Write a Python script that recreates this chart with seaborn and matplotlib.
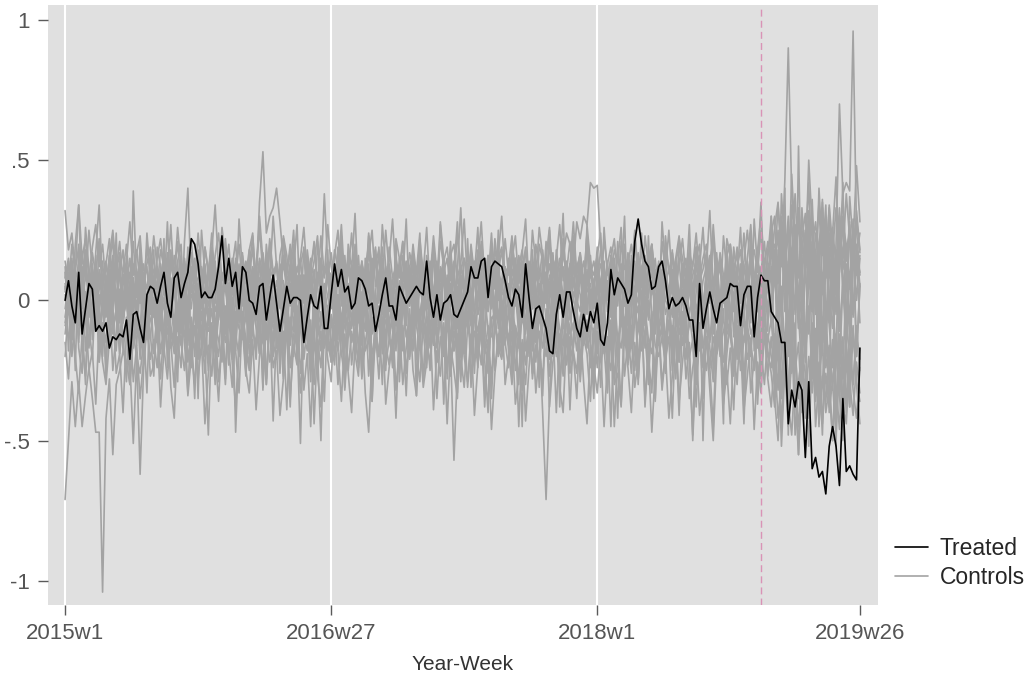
import numpy as np
import pandas as pd
import seaborn as sns
import matplotlib.pyplot as plt
from matplotlib.lines import Line2D

# weeks since 2015w1 (Stata %tw, 52 weeks/year)
n_weeks = 234
tick_pos = [0, 78, 156, 233]
tick_lab = ['2015w1', '2016w27', '2018w1', '2019w26']
y_ticks = [-1, -0.5, 0, 0.5, 1]
y_lab = ['-1', '-.5', '0', '.5', '1']
treat_week = 204  # 2018w49

# values in hundredths
treated = [0, 7, -2, -8, 10, -12, -3, 6, 4, -11,
           -9, -11, -8, -17, -13, -14, -12, -13, -7, -21,
           -5, -4, -10, -15, 2, 5, 4, -1, 5, 10,
           -1, -6, 8, 10, 1, 6, 10, 22, 20, 13,
           1, 3, 1, 1, 4, 12, 23, 6, 15, 5,
           10, -3, 12, 10, 0, -1, -5, 5, 6, -7,
           1, 9, -1, -11, -3, 5, -1, 1, 1, 0,
           -15, -6, 2, -2, -3, 5, -10, -10, 2, 13,
           5, 11, 3, 5, -3, -1, 8, 7, 4, -2,
           -1, -11, -5, 2, 8, -2, -2, -7, 5, 2,
           -1, 1, 3, 5, 3, 2, 14, 1, -6, 2,
           -7, -1, 0, 2, -5, -6, -3, 0, 3, 12,
           8, 8, 14, 15, 1, 12, 14, 13, 12, 7,
           1, -2, 4, 2, -6, 13, 1, -10, -3, -2,
           -6, -10, -18, -19, -5, 2, -6, 3, 3, -4,
           -10, -13, -5, -11, -4, -8, -1, -14, -16, -8,
           11, 2, 8, 6, 4, -1, 2, 21, 29, 20,
           14, 12, 4, 5, 12, 14, 7, -3, 1, -2,
           -1, 1, -2, -7, -7, -20, 6, -10, -3, 3,
           -3, -8, -1, 0, 1, 6, 5, 5, -9, 2,
           5, 5, -13, 1, 9, 7, 7, -4, -6, -8,
           -15, -15, -44, -32, -38, -29, -32, -56, -29, -60,
           -56, -63, -61, -69, -52, -45, -52, -66, -35, -61,
           -59, -62, -64, -17]

c01 = [-71, -50, -29, -45, -29, -45, -34, -24, -35, -47, -47, -104, -42, -28, -55, -30, -25, -18, -22, -30, -12, -20, -26, -15, -9, -21,
       -14, -24, -8, -17, -28, -11, -19, -6, -15, -25, -10, -18, -30, -13, -4, -20, -16, -27, -9, -14, -22, -5, -18, -31, -12, -20,
       -8, -17, -25, -10, -3, -19, -13, -28, -6, -15, -21, -9, -18, -2, -24, -12, -16, -33, -7, -14, -20, -11, -26, -4, -17, -10,
       -22, -13, -5, -19, -27, -8, -15, -11, -24, -3, -18, -14, -29, -9, -20, -6, -16, -23, -12, -2, -19, -10, -25, -14, -7, -21,
       -13, -27, -4, -17, -10, -22, -15, -8, -26, -12, -18, -5, -20, -31, -9, -16, -11, -24, -3, -19, -14, -28, -7, -17, -21, -10,
       -16, -6, -25, -12, -19, -30, -8, -14, -22, -4, -17, -11, -27, -9, -20, -15, -5, -23, -13, -18, -26, -7, -16, -10, -24, -12,
       -19, -3, -14, -22, -9, -28, -12, -17, -6, -21, -15, -25, -8, -18, -11, -30, -4, -16, -20, -13, -23, -7, -19, -26, -10, -15,
       -5, -20, -14, -29, -11, -17, -8, -24, -13, -19, -3, -22, -16, -10, -27, -12, -18, -6, -21, -15, -25, -9, -17, -30, -12, -20,
       -28, -15, -35, -22, -40, -18, -31, -45, -25, -38, -20, -33, -14, -42, -27, -36, -19, -30, -48, -24, -37, -16, -29, -41, -22, -33]

c02 = [32, 18, 24, 10, 34, 15, 22, 8, 19, 27, 12, 20, 5, 16, 25, 11, 21, 7, 14, 28, 9, 17, 23, 6, 13, 19,
       4, 15, 22, 10, 1, 18, 8, 26, 12, -3, 16, 21, 7, 13, -1, 19, 9, 24, 5, 14, -4, 11, 20, 2, 15, 8,
       17, -2, 12, 23, 6, 30, 14, 3, 19, 9, -5, 16, 22, 7, 11, 25, 1, 13, 18, -3, 10, 21, 5, 15, 8, 27,
       12, 4, 19, -2, 14, 9, 24, 6, 16, -4, 11, 20, 3, 13, 18, 7, 25, 10, -1, 15, 8, 21, 2, 12, 17, 5,
       22, 9, 14, -3, 18, 6, 27, 11, 3, 16, 20, 8, 13, 29, 5, 17, 10, -2, 21, 12, 7, 24, 4, 15, 19, 9,
       1, 14, 23, 6, 11, 18, -4, 13, 8, 26, 16, 3, 20, 10, 15, -1, 22, 7, 12, 28, 9, 17, 4, 19, 11, 6,
       16, 24, 3, 13, 19, 8, -2, 21, 11, 15, 6, 25, 9, 18, 2, 14, 20, 7, 12, -3, 23, 10, 17, 5, 13, 22,
       8, 15, 1, 19, 12, 26, 6, 14, 22, 3, 17, 9, -2, 20, 11, 16, 7, 24, 4, 13, 18, 10, 25, 6, 15, 30,
       12, 34, 18, 7, 26, 15, 38, 10, 22, 31, 4, 19, 28, 13, 36, 8, 24, 17, 33, 11, 27, 20, 6, 29, 16, 24]

c03 = [5, -3, 9, 2, -6, 12, 0, 7, -8, 4, 10, -2, 6, -9, 3, 11, -4, 8, 1, -7, 13, 5, -1, 9, -5, 2,
       7, -6, 10, 3, -2, 14, 6, -8, 1, 9, -4, 12, 4, -3, 8, -7, 11, 2, -1, 15, 0, 6, -9, 5, 10, -3,
       3, 8, -5, 12, 6, 35, 53, 24, 30, 33, 40, 28, 14, 7, -2, 10, 4, -6, 9, 1, 13, -4, 6, 11, -1, 8,
       2, -7, 10, 5, -3, 13, 0, 8, -5, 11, 4, -2, 9, -8, 6, 14, 1, -4, 7, 12, -6, 3, 10, -1, 5, -9,
       9, 2, -5, 12, 4, -1, 8, 15, -3, 6, 1, 11, -7, 5, 13, 0, -4, 10, 3, -2, 14, 7, -6, 9, 2, 4,
       -1, 11, 5, -8, 7, 2, 13, -3, 9, 4, -5, 10, 1, 16, -2, 6, 12, -7, 3, 8, -1, 11, 5, -4, 14, 0,
       7, -3, 10, 4, -6, 12, 2, 8, -1, 15, 5, -4, 9, 1, 13, -7, 6, 11, -2, 4, 10, -5, 8, 3, 14, -1,
       6, 12, -4, 9, 2, -7, 11, 5, 0, 14, -3, 8, 3, -5, 10, 6, -1, 13, 2, -8, 7, 15, 4, -2, 11, 18,
       9, 25, -6, 14, 30, 3, 19, -10, 22, 8, 28, -4, 16, 35, 5, 20, -8, 26, 12, 33, 1, 18, 24, -5, 15, 10]

c04 = [-8, 6, -14, 2, -5, 11, -18, -3, 7, -11, 0, -20, 4, -9, 13, -6, -15, 1, 9, -12, -2, 8, -17, 3, -7, 12,
       -4, -13, 5, -19, 10, -1, -10, 14, -6, 2, -16, 7, -3, -21, 11, 0, -8, 4, -14, 9, -5, -11, 6, -18, 1, 13,
       -9, 3, -15, 8, -2, -12, 10, -7, 5, -20, 0, 12, -4, -13, 6, -1, -17, 9, -10, 2, 14, -6, -11, 4, -3, -16,
       7, -8, 1, -14, 11, -5, -10, 5, -19, 3, -2, 13, -12, -6, 8, 0, -15, 10, -4, -9, 6, -18, 2, 12, -7, -1,
       -13, 9, 4, -8, -16, 1, 11, -6, -3, 14, -11, 5, -20, 7, -2, -9, 12, -5, 0, -14, 8, 3, -10, 6, -17, 10,
       2, -7, 13, -12, 5, -3, 9, -15, 0, 11, -6, 4, -18, 8, -9, 8, 15, 24, 20, 12, 28, 22, 30, 27, 42, 40,
       41, 20, -5, 14, -4, -13, 7, -8, 3, -16, 10, -2, -11, 12, -6, 0, -14, 9, -3, 6, -18, 4, 11, -9, -1, -12,
       8, -5, 2, -15, 13, -7, 0, 10, -12, 4, -20, 7, -3, -9, 11, -1, -14, 6, -6, 15, -10, 3, -17, 9, -4, 12,
       -22, 18, -8, -30, 10, -15, 25, -5, -26, 14, -12, 21, -33, 6, -18, 28, -9, -24, 16, -2, -28, 11, -14, 23, -20, 5]

c05 = [-12, 3, -20, -5, 8, -16, -27, -2, -10, 6, -22, -8, -15, 1, -25, -11, 4, -18, -6, -30, -13, 0, -21, -7, -14, 5,
       -19, -4, -28, -9, 2, -17, -12, -24, -1, -15, -33, -6, -20, 7, -11, -26, -3, -16, -9, -29, -14, -2, -23, -8, -18, 3,
       -10, -27, -5, -19, -13, -1, -31, -8, -22, -15, 4, -17, -11, -39, -6, -20, -2, -26, -12, -18, -7, -44, -14, -24, -3, -16,
       -21, -9, -30, -13, -4, -25, -11, -18, -1, -28, -15, -7, -36, -10, -20, 2, -23, -14, -6, -32, -17, -9, -26, -12, -3, -19,
       -29, -8, -16, -22, -5, -35, -13, -19, -2, -27, -11, -17, -24, -7, -31, -14, -4, -21, -10, -38, -15, -6, -25, -12, -20, -1,
       -18, -30, -9, -45, -14, -23, -5, -28, -16, -11, -40, -71, -35, -8, -40, -12, -26, -3, -22, -15, -7, -29, -13, -19, -36, -10,
       -24, -6, -17, -33, -11, -45, -19, -2, -27, -14, -9, -31, -21, -4, -38, -16, -12, -25, -7, -30, -18, -13, -42, -10, -22, -5,
       -28, -15, -50, -20, -8, -35, -13, -24, -45, -11, -19, -3, -30, -17, -39, -9, -25, -14, -6, -33, -21, -12, -27, -2, -18, -26,
       -38, -14, -52, -24, -33, -10, -48, -29, -19, -42, -35, -8, -45, -27, -16, -40, -31, -50, -22, -12, -36, -44, -20, -30, -9, -25]

c06 = [10, -4, 15, 2, -9, 7, 18, -2, 11, -7, 4, 14, -5, 9, 0, 16, -8, 6, 12, -3, 8, -10, 13, 1, -6, 17,
       3, 11, -8, 6, 15, -1, 9, -11, 4, 13, -5, 7, 0, 18, -3, 10, -9, 5, 14, -6, 2, 12, -4, 8, -12, 6,
       14, -2, 7, 11, -7, 3, 16, -5, 9, 1, -10, 13, 5, -3, 10, 19, -6, 4, 8, -1, 12, -8, 6, 15, -4, 2,
       9, -6, 13, 4, -3, 17, 1, -9, 7, 11, -2, 5, 15, -7, 3, 10, -5, 12, 0, 8, -11, 6, 14, -1, 9, -4,
       5, 12, -3, 8, -10, 14, 2, -6, 9, -18, -57, -25, 4, -8, 11, 1, -4, 13, -9, 6, 16, -2, 10, -7, 3, 12,
       -5, 8, 1, 14, -3, 10, -12, 6, 3, -8, 15, -1, 9, 4, -6, 11, -10, 7, 13, 0, -4, 10, -7, 5, 16, -2,
       8, -9, 12, 3, -5, 15, 0, 10, -11, 6, -2, 13, 4, -7, 9, 1, 16, -3, 7, -12, 11, 2, -6, 14, -1, 8,
       -4, 10, 5, -8, 13, 0, -10, 7, 2, 15, -6, 9, -1, 11, -13, 4, 8, -3, 12, -5, 6, 17, -9, 3, 10, -2,
       14, -12, 22, 5, -18, 10, 27, -7, 16, -22, 8, 20, -4, 12, -15, 25, 2, -10, 18, -25, 6, 13, -8, 21, 0, 15]

c07 = [-6, 8, -13, -1, 5, -10, 2, -17, -4, 9, -8, -15, 0, 6, -11, -3, -19, -7, 3, -22, -51, -20, -62, -25, -9, -14,
       1, -12, -5, -20, 4, -9, -16, -2, 7, -13, -7, -24, 0, -10, 5, -18, -4, -11, -26, 2, -8, -15, -1, -21, -6, 3,
       -14, -3, -19, -8, 6, -12, -25, -5, -10, 1, -17, -7, -28, -2, -13, 4, -22, -9, -15, -1, -11, -30, -6, -18, 2, -12,
       -7, -20, -3, -14, -9, 3, -23, -11, -5, -16, 0, -27, -8, -13, -2, -19, 6, -10, -24, -4, -15, -1, -12, -21, -6, -9,
       -17, -2, -11, -25, -5, -14, 1, -20, -8, -3, -18, -12, -29, -6, -10, 4, -22, -15, -1, -13, -26, -7, -4, -19, -11, -16,
       -3, -21, -9, -14, -32, -6, -1, -18, -11, -24, -5, -15, 2, -20, -8, -13, -27, -4, -10, -17, -2, -23, -12, -7, -16, -30,
       -9, -4, -19, -13, -45, -8, -22, -1, -15, -11, -26, -6, -3, -17, -12, -24, -7, -35, -10, -2, -20, -14, -9, -28, -5, -16,
       -11, -21, -48, -8, -3, -16, -25, -13, -6, -19, -1, -30, -12, -9, -22, -4, -17, -27, -10, -15, -7, -37, -14, -2, -20, -24,
       -12, -32, -5, -25, -45, -18, -8, -55, -28, -15, -38, -21, -10, -44, -30, -6, -26, -50, -17, -34, -13, -40, -23, -9, -29, -36]

c08 = [14, 4, 20, 9, -2, 16, 7, 25, 11, -1, 18, 6, 13, 22, 3, 10, 17, -4, 12, 8, 21, 1, 15, 5, 19, 9,
       23, 12, 2, 17, 8, 27, 5, 14, 20, -3, 11, 16, 6, 24, 9, 13, 1, 19, 10, 4, 26, 15, 7, 12, 21, 0,
       16, 9, 18, 4, 13, 25, 10, -2, 20, 7, 14, 3, 22, 11, 17, 6, 1, 15, 26, 8, 12, 19, 5, 23, 9, 14,
       4, 18, 11, 27, 6, 15, -1, 20, 9, 13, 3, 24, 10, 16, 7, 19, 2, 14, 29, 8, 12, 21, 5, 17, 11, 0,
       19, 10, 26, 3, 14, 8, 21, 12, -2, 17, 6, 24, 11, 15, 4, 20, 9, 13, 28, 7, 16, 2, 22, 10, 18, 5,
       12, 23, 6, 16, 9, 19, 1, 25, 13, 8, 18, 4, 21, 11, 15, 27, 7, 14, 3, 20, 10, 17, 5, 24, 12, 9,
       16, 4, 22, 11, 7, 18, 14, 26, 2, 13, 20, 9, 17, 5, 23, 12, 8, 15, 1, 21, 10, 25, 6, 14, 19, 11,
       3, 17, 12, 24, 8, 15, 20, 6, 27, 10, 13, 1, 22, 16, 9, 19, 4, 14, 25, 11, 7, 18, 30, 12, 21, 15,
       26, 35, 12, 43, 90, 38, 20, 8, 31, 18, 42, 5, 24, 15, 33, 9, 28, 19, 2, 22, 36, 14, 27, 11, 32, 18]

c09 = [-3, 10, -9, 4, -15, 7, 0, -6, 13, -11, 2, -4, 9, -13, 5, -1, 11, -8, 3, -16, 8, -2, -10, 6, 12, -5,
       7, -12, 3, 10, -7, 1, -14, 8, -4, 14, -9, 5, -1, -17, 9, 2, -6, 13, -11, 4, -3, 11, -8, 0, -15, 6,
       -2, 12, -10, 5, -5, 8, -13, 1, 10, -8, 3, -16, 7, -1, 14, -11, 4, -6, 9, -14, 2, 11, -4, -9, 6, -18,
       8, -3, 13, -12, 2, 6, -9, 15, -5, 0, 11, -14, 4, -7, 9, -2, 12, -10, 3, -18, 7, 1, -6, 10, -13, 5,
       -8, 4, 11, -2, -15, 9, 0, 13, -11, 6, -4, -16, 8, 2, -9, 14, -6, 1, 10, -13, 5, -3, 12, -10, 7, -1,
       15, -7, 3, -12, 9, 1, -5, 12, -14, 6, -2, 10, -9, 4, -17, 8, 0, 13, -6, -11, 7, 2, -15, 11, -3, 5,
       -10, 6, 14, -4, 1, -13, 9, -7, 3, 12, -16, 5, -1, 10, -9, 2, 15, -12, 4, -5, 11, -2, -14, 7, 0, 13,
       -6, 9, -11, 3, 16, -4, 7, -15, 1, 11, -8, 5, -12, 14, -2, 8, -17, 4, 10, -6, 2, -13, 12, -3, 6, 20,
       10, -8, 28, 15, -12, 34, 22, 3, -18, 25, 8, 30, -5, 18, -15, 12, 33, -2, 20, 70, 38, 42, 39, 96, 25, 9]

c10 = [2, -5, 6, -1, 4, -7, 3, 0, -4, 8, -2, 5, -6, 1, 7, -3, 2, -8, 4, -1, 6, -5, 3, 0, -6, 5,
       -2, 7, -4, 1, -8, 3, 6, -3, 0, 9, -5, 2, -1, 6, -7, 4, -2, 8, -4, 1, 5, -6, 3, -1, 7, -3,
       4, -1, -6, 3, 8, -2, 5, -5, 1, -3, 7, 0, -7, 4, 2, -4, 9, -2, -5, 6, -1, 3, -8, 5, 0, -3,
       6, -4, 2, -7, 4, 1, -3, 8, -5, 0, 5, -2, 3, -6, 7, -1, -4, 6, 2, -8, 4, 0, -3, 7, -2, 1,
       -5, 3, 8, -1, -4, 6, 0, -7, 5, 2, -3, 9, -2, 4, -6, 1, 7, -5, 3, -1, -4, 6, -2, 8, -6, 2,
       3, -6, 1, 5, -2, -8, 7, 0, 4, -4, 2, -1, 6, -5, 8, -3, 1, 5, -7, 3, 0, -4, 9, -2, 4, -6,
       -1, 5, -3, 7, 0, -5, 4, -2, 6, -8, 3, 1, -4, 7, -1, -6, 5, 2, -3, 8, -5, 0, 4, -7, 2, 6,
       -4, 2, 6, -3, 1, -7, 5, -1, 8, -4, 0, 4, -6, 3, 7, -2, -5, 6, 1, -3, 9, -4, 2, -1, 5, -8,
       10, -12, 5, -18, 14, -6, 20, -10, 3, -15, 12, -4, 18, -9, 7, -20, 13, -2, 16, -11, 6, -17, 9, -5, 15, -8]

c11 = [-9, -2, -14, -5, 3, -11, -7, -16, -1, -10, -4, -13, 2, -8, -12, -3, -15, -6, 0, -11, -17, -5, -9, 1, -13, -7,
       -3, -15, -8, -1, -12, -6, 4, -10, -16, -2, -9, -13, -5, 0, -14, -7, -11, -3, -18, -6, -1, -12, -8, -15, -4, -10,
       -13, -6, 0, -11, -17, -4, -8, -14, -2, -10, -5, -19, -7, 1, -12, -9, -15, -3, -11, -6, -16, -1, -13, -8, -4, -14,
       -5, -12, -18, -7, -2, -13, -9, -4, -15, -10, -1, -14, -6, -11, -20, -3, -8, -12, -5, -16, -9, 0, -13, -7, -17, -4,
       -11, -6, -15, -2, -9, -13, -7, -18, -3, -12, -8, -1, -14, -10, -5, -16, -6, -11, -2, -19, -9, -13, -4, -8, -15, -7,
       -14, -3, -10, -17, -6, -12, -1, -9, -15, -5, -11, -20, -7, -13, -2, -10, -16, -4, -12, -8, -18, -6, -1, -14, -9, -11,
       -2, -13, -7, -16, -10, -4, -15, -8, -12, -1, -17, -6, -11, -9, -3, -14, -19, -5, -10, -7, -13, 0, -16, -8, -12, -4,
       -15, -9, -5, -12, -18, -3, -10, -14, -7, -1, -16, -11, -6, -13, -20, -4, -9, -15, -2, -12, -8, -17, -5, -11, -14, -7,
       -22, -8, -30, -15, -4, -26, -18, -35, -10, -20, -2, -28, -14, -38, -6, -24, -16, -32, -12, -25, -40, -9, -19, -30, -13, -21]

c12 = [8, 15, 2, 11, 19, 5, 13, -1, 17, 9, 22, 4, 12, 7, 16, 0, 14, 10, 20, 3, 11, 18, 6, 13, -2, 15,
       10, 4, 18, 12, 1, 15, 8, 21, 6, 13, -3, 17, 9, 14, 2, 19, 11, 5, 16, 24, 7, 12, 0, 15, 9, 20,
       5, 14, 8, 19, 2, 12, 17, 6, 22, 10, 13, 1, 16, 9, 20, 4, 11, 15, -1, 18, 7, 14, 23, 3, 12, 8,
       17, 6, 11, 21, 3, 14, 9, 18, 0, 13, 7, 16, 25, 5, 10, 15, 2, 19, 8, 12, -2, 16, 11, 6, 20, 9,
       13, 1, 16, 8, 23, 10, 4, 14, 19, 7, 11, 28, 3, 15, 9, 17, 5, 12, 20, 1, 14, 8, 18, 10, 6, 22,
       9, 16, 4, 12, 18, 7, 14, 2, 20, 11, 6, 15, 26, 8, 13, 3, 17, 10, 21, 5, 12, 16, -1, 19, 9, 14,
       6, 18, 11, 3, 15, 22, 8, 13, 1, 17, 10, 24, 5, 12, 16, 9, 20, -3, 14, 7, 19, 11, 4, 15, 23, 8,
       15, 2, 13, 19, 7, 11, 17, 4, 22, 9, 14, 0, 16, 20, 6, 12, 18, 3, 15, 27, 8, 13, 10, 21, 5, 17,
       20, 8, 30, 14, 25, 3, 18, 33, 10, 24, 16, 36, 6, 21, 28, 12, 34, 19, 7, 26, 15, 38, 22, 11, 29, 17]

c13 = [12, -18, 5, -25, 20, -8, -30, 9, -14, 16, -22, 3, -28, 11, -5, 24, -19, -2, 15, -26, 7, -12, 21, -9, -33, 4,
       18, -15, -3, 22, -24, 8, -11, -29, 14, -6, 19, -20, 2, -35, 10, -17, -48, -10, -30, 6, -13, 17, -23, 1, -47, -15,
       9, -26, 13, -8, -21, 4, -32, 16, -5, -43, -10, 11, -27, 3, -16, 20, -12, -51, -4, 14, -25, 6, -18, -50, -7, 18,
       -22, 5, -14, 23, -31, -3, 12, -19, 8, -27, 15, -9, -36, 2, 19, -16, -25, 10, -6, 21, -29, -1, 13, -20, 7, -34,
       16, -11, -24, 4, 20, -17, -6, 11, -28, -2, 14, -33, 9, -15, 22, -8, -26, 3, 17, -21, -40, 12, -4, 25, -18, -10,
       6, -29, 15, -7, -45, 10, -20, 18, -3, -31, 2, 21, -16, -9, 13, -38, -1, 8, -24, 19, -12, -27, 5, 24, -14, -35,
       11, -19, 3, -28, 16, -10, -42, 7, 20, -23, -5, 14, -30, 1, -17, 23, -8, -36, 9, -13, 18, -4, -25, 12, -22, 4,
       -15, 21, -6, -30, 10, -50, -2, 15, -26, 5, -12, -44, 19, -9, 3, -21, 13, -33, -7, 24, -18, 8, -28, 14, -11, 30,
       -35, -50, -18, 40, -48, 12, -25, 55, -10, -40, 28, -22, 15, -45, 35, -8, -30, 20, -52, 10, 42, -15, -38, 25, -20, 6]

c14 = [3, 14, -5, 20, 34, -2, 26, 11, -9, 17, 34, 4, -4, 13, 22, -7, 10, 18, 1, -11, 39, 6, 15, -3, 24, 9,
       -6, 19, 12, 2, 28, -1, 16, 7, -10, 21, 40, 5, 13, -8, 25, 9, 1, 17, 34, 11, -4, 22, 8, 14, -2, 29,
       10, -5, 18, 24, 3, 14, -9, 20, 7, 30, 12, -3, 23, 16, 1, 11, 27, -6, 19, 4, 15, -12, 21, 8, 38, 13,
       -3, 16, 25, 6, -8, 20, 11, 31, 2, 14, -5, 23, 9, 18, -1, 27, 12, 4, -10, 22, 15, 7, 29, -2, 17, 10,
       24, -4, 13, 8, 19, -9, 28, 15, 2, 21, -6, 11, 33, 5, -1, 18, 9, 26, -7, 14, 3, 20, -11, 16, 30, 6,
       -2, 22, 10, -8, 17, 29, 4, 12, -5, 20, 14, 1, 25, -10, 18, 8, 31, -3, 11, 23, 6, 15, -7, 27, 13, 2,
       19, -6, 26, 9, 14, -1, 21, 5, 30, -9, 16, 11, 3, 24, -4, 13, 20, 7, -8, 28, 12, 1, 18, -5, 22, 15,
       6, 27, -3, 15, 20, -7, 12, 32, 4, 17, -2, 23, 10, -11, 19, 8, 26, 1, 14, -6, 29, 11, 35, -4, 18, 24,
       30, -10, 38, 18, 5, 45, 22, -6, 33, 12, 50, 26, -2, 40, 16, 34, -8, 24, 44, 10, 30, -12, 37, 20, 48, 28]

c15 = [-15, -28, -8, -20, -33, -12, -4, -25, -18, -37, -9, -22, -30, -14, -3, -26, -19, -40, -11, -7, -29, -16, -35, -21, -6, -27,
       -23, -10, -38, -17, -5, -31, -42, -13, -24, -2, -34, -20, -9, -28, -15, -44, -26, -8, -19, -36, -12, -30, -4, -22, -38, -16,
       -7, -25, -33, -14, -39, -20, -11, -30, -3, -24, -18, -41, -28, -9, -35, -16, -23, -6, -32, -19, -45, -13, -27, -38, -10, -21,
       -29, -4, -18, -36, -12, -26, -40, -15, -21, -8, -33, -47, -19, -11, -28, -6, -37, -24, -14, -42, -9, -30, -17, -3, -25, -34,
       -13, -31, -22, -7, -39, -18, -27, -10, -44, -16, -25, -35, -5, -20, -29, -12, -41, -23, -8, -32, -17, -46, -26, -14, -3, -30,
       -20, -11, -37, -27, -15, -43, -24, -9, -33, -18, -28, -6, -38, -22, -14, -31, -40, -12, -26, -19, -35, -8, -29, -44, -16, -23,
       -33, -17, -45, -21, -7, -30, -26, -38, -12, -24, -40, -15, -28, -4, -35, -20, -47, -25, -11, -32, -19, -42, -27, -9, -36, -22,
       -10, -35, -24, -16, -41, -28, -13, -32, -50, -20, -9, -37, -25, -44, -18, -30, -6, -39, -27, -14, -46, -22, -33, -11, -28, -38,
       -20, -42, -30, -12, -36, -48, -25, -15, -40, -28, -52, -18, -34, -8, -44, -26, -38, -14, -30, -46, -22, -36, -10, -32, -42, -24]

c16 = [6, -3, 12, 1, -8, 9, 15, -1, 4, -10, 11, 2, -5, 16, 7, -2, 13, -7, 3, 10, -4, 8, 14, 0, -6, 11,
       5, -9, 13, 3, 17, -2, 8, -6, 12, 1, -11, 9, 15, -4, 6, -1, 11, 18, 2, -7, 10, 4, -3, 14, 7, -8,
       12, 0, -6, 10, 4, 15, -3, 9, -9, 6, 13, 2, -5, 11, 17, -2, 7, 1, -10, 14, 3, 8, -4, 12, -1, 9,
       2, 13, -5, 8, 16, -1, 10, 4, -8, 14, 6, -3, 11, 19, 0, 7, -6, 12, 3, -2, 15, 5, -9, 9, 13, 1,
       10, -7, 4, 14, 1, -4, 12, 8, -2, 16, 5, -10, 9, 3, 13, -5, 7, 18, 0, 11, -3, 6, 15, -8, 4, 12,
       -1, 9, 15, 2, -6, 11, 7, -3, 14, 0, -9, 10, 5, 17, -4, 8, 2, -7, 13, 6, -2, 16, 1, -5, 10, 4,
       13, -4, 7, 1, 16, -8, 10, 5, -2, 12, 3, -6, 15, 9, -1, 6, 14, -9, 4, 11, 0, -3, 17, 7, -5, 9,
       1, 11, -6, 14, 4, -2, 9, 16, -7, 6, 12, -1, 3, 18, -4, 10, 5, -8, 13, 2, -3, 15, 7, -5, 11, -9,
       15, -14, 25, 6, -20, 18, -5, 30, 10, -16, 22, 2, -25, 14, 27, -9, 19, -2, -18, 24, 8, -12, 28, -6, 20, 5]

c17 = [-20, -2, -11, 8, -17, -26, 3, -9, -21, 5, -14, -1, -24, 10, -7, -18, 1, -13, -29, 4, -6, -16, 7, -23, -3, -12,
       -27, 0, -19, -8, 9, -15, -31, -4, -12, 6, -22, -10, -35, 2, -16, -5, -25, 7, -13, -20, -1, -28, 5, -9, -18, -33,
       -4, -14, -24, 3, -10, -19, 8, -30, -7, -16, -1, -26, 4, -12, -38, -6, -15, 6, -21, -9, -29, 0, -17, -11, -36, -2,
       -15, -23, 2, -8, -32, -13, 5, -19, -27, -3, -11, 9, -24, -16, -6, -30, 1, -14, -20, 4, -26, -10, -34, -5, -18, 3,
       -9, -28, -17, 5, -13, -22, -2, -37, -8, -16, 3, -25, -12, -19, 6, -31, -4, -14, -23, 1, -10, -35, -7, -20, 2, -15,
       -24, -6, -13, -30, 4, -18, -9, -26, 0, -14, -34, -3, -21, -11, 7, -28, -16, -5, -39, -12, -2, -22, -8, -17, 3, -27,
       -11, -31, -4, -19, -25, 2, -14, -37, -7, -22, -15, 5, -28, -10, -3, -20, -33, -1, -16, -8, -26, 3, -18, -12, -41, -6,
       -21, -5, -15, -38, -9, -24, 1, -17, -29, -12, -3, -35, -19, -7, -25, 4, -14, -44, -10, -20, -2, -31, -16, -6, -27, -13,
       -30, -8, -45, -20, -38, -5, -33, -55, -18, -26, -42, -12, -36, -22, -48, -9, -40, -28, -15, -34, -50, -20, -38, -11, -30, -44]

c18 = [4, 10, 0, 7, 13, -3, 9, 5, 12, 1, -4, 8, 14, 3, 6, 11, -2, 9, 5, 15, 2, 7, -1, 10, 4, 12,
       8, 1, 11, 5, -2, 13, 6, 9, 2, 15, 4, -3, 10, 7, 12, 0, 8, 14, 3, 6, -1, 11, 5, 9, 13, 2,
       7, 12, 3, -1, 10, 6, 14, 2, 8, 11, -2, 5, 13, 4, 9, 0, 12, 7, 3, 15, 6, -3, 10, 8, 1, 11,
       9, 3, 14, 6, 0, 11, 5, -4, 12, 8, 2, 10, 4, 16, 7, -1, 9, 13, 1, 6, 11, 3, 8, -2, 14, 5,
       2, 11, 6, 13, -1, 8, 4, 10, 15, 3, 7, -3, 12, 5, 9, 1, 14, 6, -2, 11, 8, 4, 13, 0, 7, 10,
       12, 5, -2, 9, 14, 1, 8, 11, 4, -4, 10, 6, 13, 2, 7, 15, -1, 9, 4, 12, 0, 8, 14, 3, 6, -3,
       5, 13, 8, 0, 11, 4, 16, 6, -2, 9, 12, 3, 7, -1, 14, 10, 2, 8, 13, -3, 6, 11, 4, 15, 1, 9,
       11, 3, 9, 14, -2, 7, 12, 5, 1, 10, 15, 4, -3, 8, 13, 6, 0, 11, 7, 16, 2, 9, -4, 12, 5, 10,
       18, 6, 24, -4, 15, 28, 10, -8, 20, 12, 32, 2, 17, -10, 26, 8, 22, 14, -5, 30, 11, 19, 4, 25, 9, 16]

controls = [c01, c02, c03, c04, c05, c06, c07, c08, c09, c10, c11, c12, c13, c14, c15, c16, c17, c18]

# long table for seaborn
frames = []
for i, vals in enumerate(controls):
    vals = vals[:n_weeks]
    frames.append(pd.DataFrame({'week': np.arange(len(vals)),
                                'value': np.array(vals) / 100,
                                'unit': f'c{i + 1:02d}'}))
df_c = pd.concat(frames, ignore_index=True)
df_t = pd.DataFrame({'week': np.arange(len(treated)), 'value': np.array(treated) / 100})

sns.set_theme(style='white')
plt.rcParams['font.family'] = ['Liberation Sans', 'DejaVu Sans']

fig = plt.figure(figsize=(10.3, 6.75), dpi=100)
ax = fig.add_axes([48 / 1030, 70 / 675, 830 / 1030, 600 / 675])
ax.set_facecolor('#e0e0e0')

# white grid lines at the labelled weeks (none at the last label, as in the original)
for x in tick_pos[:-1]:
    ax.axvline(x, color='white', lw=1.5, zorder=0.5)

ctrl_col = '#a3a3a3'
sns.lineplot(data=df_c, x='week', y='value', units='unit', estimator=None,
             color=ctrl_col, lw=1.2, legend=False, ax=ax)
sns.lineplot(data=df_t, x='week', y='value', color='black', lw=1.2, ax=ax)
ax.axvline(treat_week, color='#d993b6', lw=1.0, ls=(0, (5, 3)))

ax.set_xlim(-5, 238.3)
ax.set_ylim(-1.086, 1.053)
ax.set_xticks(tick_pos)
ax.set_xticklabels(tick_lab)
ax.set_yticks(y_ticks)
ax.set_yticklabels(y_lab)
ax.grid(False)
for s in ax.spines.values():
    s.set_visible(False)
ax.tick_params(axis='both', direction='out', length=7, width=1, color='#5a5a5a',
               labelcolor='#555555', labelsize=16, pad=6, bottom=True, left=True)
ax.set_xlabel('Year-Week', fontsize=15, color='#333333', labelpad=8)
ax.set_ylabel('')

handles = [Line2D([], [], color='black', lw=1.2), Line2D([], [], color=ctrl_col, lw=1.2)]
fig.legend(handles, ['Treated', 'Controls'], loc='center left',
           bbox_to_anchor=(895 / 1030, 1 - 563 / 675), frameon=False, fontsize=16.5,
           borderpad=0, borderaxespad=0,
           handlelength=1.45, handletextpad=0.5, labelspacing=0.3)

fig.savefig('out.png', dpi=100)
